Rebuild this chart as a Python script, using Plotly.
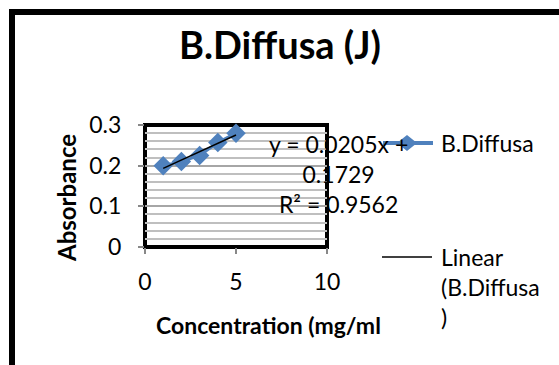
import plotly.graph_objects as go

# Data
conc = [1, 2, 3, 4, 5]
absorbance = [0.200, 0.210, 0.225, 0.257, 0.280]
series_name = "B.Diffusa"
title_text = "B.Diffusa (J)"
x_title = "Concentration (mg/ml"
y_title = "Absorbance"
y_tickvals = [0, 0.1, 0.2, 0.3]
y_ticktext = ["0", "0.1", "0.2", "0.3"]
x_tickvals = [0, 5, 10]
x_ticktext = ["0", "5", "10"]
eq_text = "y = 0.0205x +<br>0.1729<br>R² = 0.9562"
slope, intercept = 0.0205, 0.1729

W, H = 559, 365
L, R, T, B = 145, 327, 125, 247  # plot area pixel bounds

def px(x):
    return (x - L) / (R - L)

def py(y):
    return (B - y) / (B - T)

FONT = "Lato, Carlito, Calibri, sans-serif"
blue = "#4F81BD"

fit_x = [conc[0], conc[-1]]
fit_y = [slope * v + intercept for v in fit_x]

fig = go.Figure()
fig.add_trace(go.Scatter(
    x=conc, y=absorbance, mode="lines+markers",
    line=dict(color=blue, width=3),
    marker=dict(symbol="diamond", size=15, color=blue),
    showlegend=False, cliponaxis=False))
fig.add_trace(go.Scatter(
    x=fit_x, y=fit_y, mode="lines",
    line=dict(color="black", width=1.5),
    showlegend=False, cliponaxis=False))

shapes = []
# outer chart border
shapes.append(dict(type="rect", xref="paper", yref="paper",
                   x0=px(12), x1=px(620), y0=py(12), y1=py(420),
                   line=dict(color="black", width=6), layer="above"))
# plot area border
shapes.append(dict(type="rect", xref="paper", yref="paper",
                   x0=0, x1=1, y0=0, y1=1,
                   line=dict(color="black", width=4), layer="between"))
# legend symbols
shapes.append(dict(type="line", xref="paper", yref="paper",
                   x0=px(383), x1=px(433), y0=py(143), y1=py(143),
                   line=dict(color=blue, width=4), layer="above"))
cx, cy, hw, hh = 407, 143, 10, 8
shapes.append(dict(type="path", xref="paper", yref="paper",
                   path=(f"M {px(cx-hw)} {py(cy)} L {px(cx)} {py(cy-hh)} "
                         f"L {px(cx+hw)} {py(cy)} L {px(cx)} {py(cy+hh)} Z"),
                   fillcolor=blue, line=dict(color=blue, width=0), layer="above"))
shapes.append(dict(type="line", xref="paper", yref="paper",
                   x0=px(382), x1=px(432), y0=py(257), y1=py(257),
                   line=dict(color="black", width=1.5), layer="above"))

ann = []
ann.append(dict(text=f"<b>{title_text}</b>", x=px(280), y=py(44), xref="paper", yref="paper",
                showarrow=False, font=dict(family=FONT, size=38, color="black"),
                xanchor="center", yanchor="middle"))
ann.append(dict(text=f"<b>{x_title}</b>", x=px(154), y=py(325), xref="paper", yref="paper",
                showarrow=False, font=dict(family=FONT, size=23, color="black"),
                xanchor="left", yanchor="middle"))
ann.append(dict(text=f"<b>{y_title}</b>", x=px(66), y=py(198), xref="paper", yref="paper",
                showarrow=False, textangle=-90, font=dict(family=FONT, size=24, color="black"),
                xanchor="center", yanchor="middle"))
ann.append(dict(text=eq_text, x=px(338), y=py(174), xref="paper", yref="paper",
                showarrow=False, align="center", font=dict(family=FONT, size=23, color="black"),
                xanchor="center", yanchor="middle"))
ann.append(dict(text=series_name, x=px(439), y=py(143), xref="paper", yref="paper",
                showarrow=False, align="left", font=dict(family=FONT, size=23, color="black"),
                xanchor="left", yanchor="middle"))
ann.append(dict(text=f"Linear<br>({series_name}<br>)", x=px(439), y=py(287), xref="paper", yref="paper",
                showarrow=False, align="left", font=dict(family=FONT, size=23, color="black"),
                xanchor="left", yanchor="middle"))

fig.update_layout(
    width=W, height=H,
    margin=dict(l=L, r=W - R, t=T, b=H - B),
    paper_bgcolor="white", plot_bgcolor="white",
    showlegend=False,
    shapes=shapes, annotations=ann,
    font=dict(family=FONT, size=23, color="black"),
    xaxis=dict(range=[0, 10], tickvals=x_tickvals, ticktext=x_ticktext,
               showgrid=False, zeroline=False, showline=False,
               ticks="outside", ticklen=6, tickcolor="#888888", tickwidth=1.5,
               tickfont=dict(family=FONT, size=23), ticklabelstandoff=8),
    yaxis=dict(range=[0, 0.3], tickvals=y_tickvals, ticktext=y_ticktext,
               showgrid=True, gridcolor="#A6A6A6", gridwidth=1.5,
               minor=dict(dtick=0.02, showgrid=True, gridcolor="#BFBFBF", gridwidth=1.5),
               zeroline=False, showline=False,
               ticks="outside", ticklen=6, tickcolor="#888888", tickwidth=1.5,
               tickfont=dict(family=FONT, size=23), ticklabelstandoff=12),
)

fig.write_html("out.html")
